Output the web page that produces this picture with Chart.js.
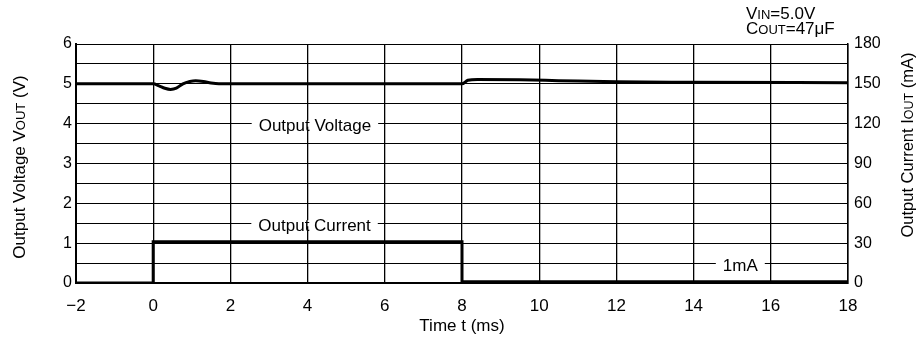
<!DOCTYPE html>
<html>
<head>
<meta charset="utf-8">
<script src="https://cdn.jsdelivr.net/npm/chart.js@4.4.0/dist/chart.umd.min.js"></script>
<style>
  html, body { margin: 0; padding: 0; background: #fff; }
  #wrap { width: 918px; height: 341px; }
</style>
</head>
<body>
<div id="wrap"><canvas id="myChart"></canvas></div>
<script>
// output voltage (V) vs time (ms)
const voltTime   = [-2, 0, 0.15, 0.3, 0.45, 0.6, 0.77, 0.95, 1.1, 1.3, 1.5, 1.7, 8, 8.15, 8.4, 9.5, 10.5, 12, 14, 18];
const voltValues = [5.0, 5.0, 4.95, 4.89, 4.86, 4.89, 5.0, 5.06, 5.08, 5.06, 5.02, 5.0, 5.0, 5.09, 5.11, 5.1, 5.08, 5.05, 5.04, 5.03];

// output current (mA) vs time (ms)
const currTime   = [-2, 0, 0, 8, 8, 18];
const currValues = [0, 0, 31, 31, 1, 1];

const FONT = '"Liberation Sans", Arial, Helvetica, sans-serif';

// labels written on the plot (x in ms, y in V)
const notes = [
    { text: 'Output Voltage', x: 4.19, y: 4 },
    { text: 'Output Current', x: 4.18, y: 1.5 },
    { text: '1mA', x: 15.21, y: 0.5 }
];

// text with small-caps subscripts, parts = [[text, size], ...]
function richText(ctx, parts, x, y, align) {
    let total = 0;
    parts.forEach(p => {
        ctx.font = p[1] + 'px ' + FONT;
        total += ctx.measureText(p[0]).width;
    });
    let cx = align === 'center' ? x - total / 2 : x;
    ctx.textAlign = 'left';
    ctx.textBaseline = 'alphabetic';
    parts.forEach(p => {
        ctx.font = p[1] + 'px ' + FONT;
        ctx.fillText(p[0], cx, y);
        cx += ctx.measureText(p[0]).width;
    });
}

const textPlugin = {
    id: 'texts',
    afterDraw(chart) {
        const ctx = chart.ctx;
        const sx = chart.scales.x, sy = chart.scales.y;
        ctx.save();
        ctx.fillStyle = '#000';

        // notes with white boxes over the grid
        ctx.font = '17px ' + FONT;
        notes.forEach(n => {
            const px = sx.getPixelForValue(n.x);
            const py = sy.getPixelForValue(n.y);
            const w = ctx.measureText(n.text).width;
            ctx.fillStyle = '#fff';
            ctx.fillRect(px - w / 2 - 7, py - 3, w + 14, 6);
            ctx.fillStyle = '#000';
            ctx.textAlign = 'center';
            ctx.textBaseline = 'middle';
            ctx.fillText(n.text, px, py + 3);
        });

        // conditions, top right
        richText(ctx, [['V', 17], ['IN', 13], ['=5.0V', 17]], 746, 19, 'left');
        richText(ctx, [['C', 17], ['OUT', 13], ['=47μF', 17]], 746, 34, 'left');

        // x title
        richText(ctx, [['Time t (ms)', 17]], 462, 331, 'center');

        // left title
        ctx.save();
        ctx.translate(25, 167);
        ctx.rotate(-Math.PI / 2);
        richText(ctx, [['Output Voltage V', 17], ['OUT', 13], [' (V)', 17]], 0, 0, 'center');
        ctx.restore();

        // right title
        ctx.save();
        ctx.translate(913, 145);
        ctx.rotate(-Math.PI / 2);
        richText(ctx, [['Output Current I', 16.5], ['OUT', 12.5], [' (mA)', 16.5]], 0, 0, 'center');
        ctx.restore();

        ctx.restore();
    }
};

const data = {
    datasets: [
        {
            label: 'Output Voltage',
            data: voltTime.map((t, i) => ({ x: t, y: voltValues[i] })),
            yAxisID: 'y',
            borderColor: '#000',
            borderWidth: 3,
            pointRadius: 0,
            cubicInterpolationMode: 'monotone',
            fill: false
        },
        {
            label: 'Output Current',
            data: currTime.map((t, i) => ({ x: t, y: currValues[i] })),
            yAxisID: 'y2',
            borderColor: '#000',
            borderWidth: 3,
            pointRadius: 0,
            tension: 0,
            fill: false
        }
    ]
};

const config = {
    type: 'line',
    data: data,
    options: {
        responsive: true,
        maintainAspectRatio: false,
        animation: false,
        layout: { padding: { top: 44, left: 0, right: 0, bottom: 0 } },
        plugins: {
            legend: { display: false },
            tooltip: { enabled: false }
        },
        scales: {
            x: {
                type: 'linear',
                min: -2,
                max: 18,
                ticks: {
                    stepSize: 2,
                    autoSkip: false,
                    color: '#000',
                    padding: 13,
                    font: { family: FONT, size: 17 },
                    callback: v => String(v).replace('-', '−')
                },
                grid: { color: '#000', lineWidth: 1.3, drawTicks: false },
                border: { color: '#000', width: 2 },
                afterFit: s => { s.height = 58; }
            },
            y: {
                position: 'left',
                min: 0,
                max: 6,
                ticks: {
                    stepSize: 0.5,
                    maxTicksLimit: 20,
                    autoSkip: false,
                    color: '#000',
                    padding: 4,
                    font: { family: FONT, size: 16 },
                    callback: v => Number.isInteger(v) ? v : ''
                },
                grid: { color: '#000', lineWidth: 1, drawTicks: false },
                border: { color: '#000', width: 2 },
                afterFit: s => { s.width = 76; }
            },
            y2: {
                position: 'right',
                min: 0,
                max: 180,
                ticks: {
                    stepSize: 15,
                    maxTicksLimit: 20,
                    autoSkip: false,
                    color: '#000',
                    padding: 6,
                    font: { family: FONT, size: 16 },
                    callback: v => v % 30 === 0 ? v : ''
                },
                grid: { drawOnChartArea: false, drawTicks: false },
                border: { color: '#000', width: 1.5 },
                afterFit: s => { s.width = 70; }
            }
        }
    },
    plugins: [textPlugin]
};

const ctx = document.getElementById('myChart');
const myChart = new Chart(ctx, config);
</script>
</body>
</html>
